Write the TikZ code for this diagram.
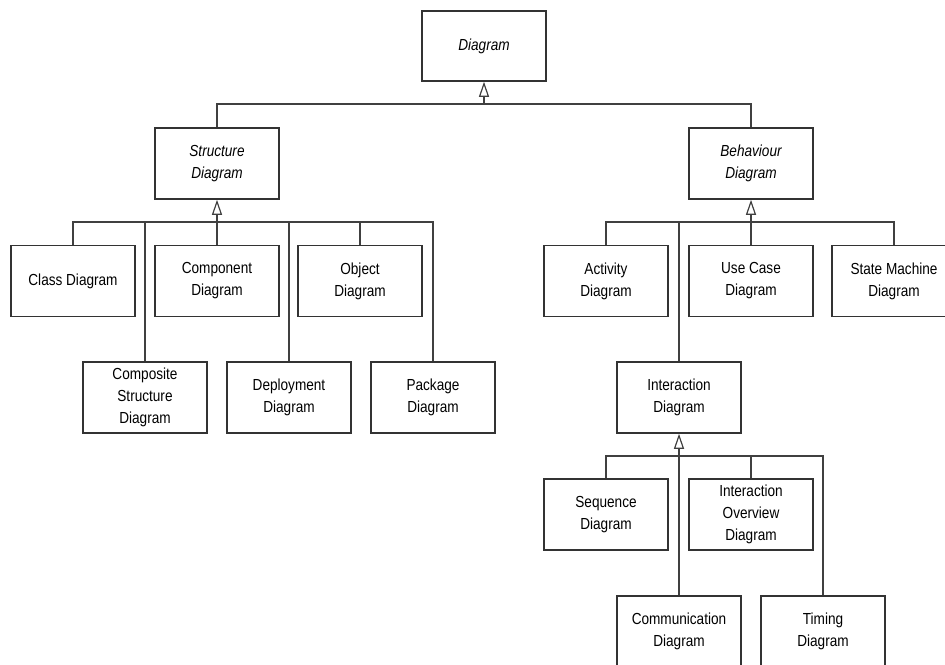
\documentclass[tikz,border=0pt]{standalone}
\usepackage{fontspec}
\setmainfont[FakeStretch=0.85]{Liberation Sans}
\usetikzlibrary{arrows.meta,positioning}

\begin{document}
\begin{tikzpicture}[x=1pt,y=-1pt,
  box/.style={rectangle,draw=black!80,line width=1.5pt,minimum width=124pt,minimum height=71pt,align=center,inner sep=0pt,font=\fontsize{16}{22}\selectfont},
  abstract/.style={box,font=\fontsize{16}{22}\selectfont\itshape},
  link/.style={draw=black!75,line width=1.2pt},
  gen/.style={link,-{Triangle[open,length=15pt,width=10pt]}}]
\useasboundingbox (0,0) rectangle (945,664);

\node[abstract,minimum height=70pt] at (484,46) (diagram) {Diagram};

\node[abstract] at (217,163.5) (struct) {Structure\\Diagram};
\node[abstract] at (751,163.5) (behav) {Behaviour\\Diagram};

\node[box] at (73,281) (class) {Class Diagram};
\node[box] at (217,281) (component) {Component\\Diagram};
\node[box] at (360,281) (object) {Object\\Diagram};
\node[box] at (145,397.5) (composite) {Composite\\Structure\\Diagram};
\node[box] at (289,397.5) (deployment) {Deployment\\Diagram};
\node[box] at (433,397.5) (package) {Package\\Diagram};

\node[box] at (606,281) (activity) {Activity\\Diagram};
\node[box] at (751,281) (usecase) {Use Case\\Diagram};
\node[box] at (894,281) (statemachine) {State Machine\\Diagram};
\node[box] at (679,397.5) (interaction) {Interaction\\Diagram};

\node[box] at (606,514.5) (sequence) {Sequence\\Diagram};
\node[box] at (751,514.5) (overview) {Interaction\\Overview\\Diagram};
\node[box] at (679,631.5) (communication) {Communication\\Diagram};
\node[box] at (823,631.5) (timing) {Timing\\Diagram};

\coordinate (tbus) at (484,104);
\coordinate (sbus) at (217,222);
\coordinate (bbus) at (751,222);
\coordinate (ibus) at (679,456);

\draw[link] (struct.north) |- (tbus);
\draw[link] (behav.north) |- (tbus);
\draw[gen] (tbus) -- (diagram.south);

\draw[link] (class.north) |- (sbus);
\draw[link] (component.north) |- (sbus);
\draw[link] (object.north) |- (sbus);
\draw[link] (composite.north) |- (sbus);
\draw[link] (deployment.north) |- (sbus);
\draw[link] (package.north) |- (sbus);
\draw[gen] (sbus) -- (struct.south);

\draw[link] (activity.north) |- (bbus);
\draw[link] (usecase.north) |- (bbus);
\draw[link] (statemachine.north) |- (bbus);
\draw[link] (interaction.north) |- (bbus);
\draw[gen] (bbus) -- (behav.south);

\draw[link] (sequence.north) |- (ibus);
\draw[link] (overview.north) |- (ibus);
\draw[link] (communication.north) |- (ibus);
\draw[link] (timing.north) |- (ibus);
\draw[gen] (ibus) -- (interaction.south);
\end{tikzpicture}
\end{document}
